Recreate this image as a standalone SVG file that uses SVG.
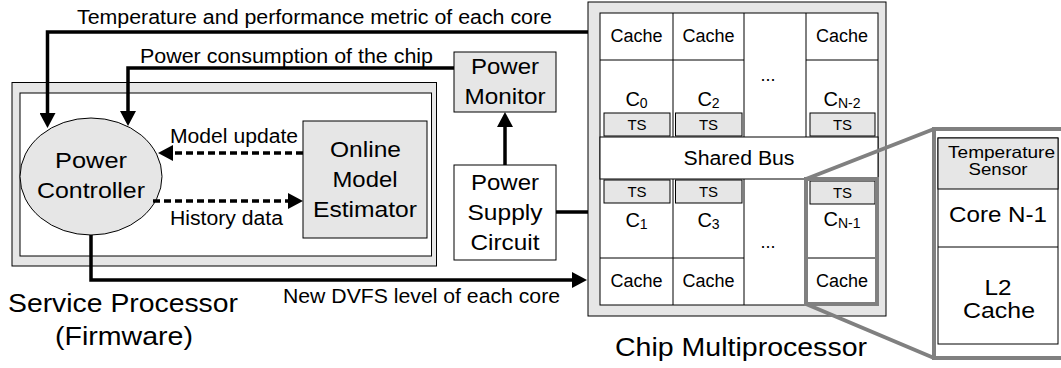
<svg xmlns="http://www.w3.org/2000/svg" width="1061" height="368" viewBox="0 0 1061 368">
  <style>
    text { font-family: "Liberation Sans", Arial, sans-serif; fill: #000; }
    .lbl { font-size: 19.5px; }
    .big { font-size: 22.5px; text-anchor: middle; }
    .cap { font-size: 26px; }
    .cell { font-size: 18px; text-anchor: middle; }
    .ts { font-size: 15px; text-anchor: middle; }
    .core { font-size: 20px; text-anchor: middle; }
    .sub { font-size: 14px; }
    .gray { fill: #e6e6e6; stroke: #000; stroke-width: 1; }
    .white { fill: #fff; stroke: #000; stroke-width: 1; }
    .thin { fill: none; stroke: #000; stroke-width: 1; }
    .wire { fill: none; stroke: #000; stroke-width: 3.5; }
    .dash { fill: none; stroke: #000; stroke-width: 3.5; stroke-dasharray: 7 4; }
    .zoom { fill: none; stroke: #808080; stroke-width: 4; }
  </style>
  <defs>
    <marker id="head" markerUnits="userSpaceOnUse" markerWidth="15" markerHeight="16" viewBox="0 0 15 16" refX="0" refY="8" orient="auto">
      <path d="M0,0 L15,8 L0,16 Z" fill="#000"/>
    </marker>
  </defs>

  <!-- Service processor enclosure -->
  <g id="service-processor">
    <rect class="gray" x="12" y="82.5" width="424.5" height="183.5"/>
    <rect class="white" x="20" y="93" width="411.5" height="163"/>
    <text class="cap" x="8" y="312" textLength="230" lengthAdjust="spacingAndGlyphs">Service Processor</text>
    <text class="cap" x="55" y="345" textLength="138" lengthAdjust="spacingAndGlyphs">(Firmware)</text>
  </g>

  <g id="power-controller">
    <ellipse class="gray" cx="91" cy="176.5" rx="71" ry="58.5"/>
    <text class="big" x="91" y="168" textLength="72" lengthAdjust="spacingAndGlyphs">Power</text>
    <text class="big" x="91" y="198" textLength="108" lengthAdjust="spacingAndGlyphs">Controller</text>
  </g>

  <g id="model-estimator">
    <rect class="gray" x="303" y="121" width="124" height="117"/>
    <text class="big" x="365.5" y="157" textLength="71" lengthAdjust="spacingAndGlyphs">Online</text>
    <text class="big" x="365" y="187" textLength="65" lengthAdjust="spacingAndGlyphs">Model</text>
    <text class="big" x="365" y="217" textLength="104" lengthAdjust="spacingAndGlyphs">Estimator</text>
  </g>

  <g id="power-monitor">
    <rect class="gray" x="454" y="52" width="102" height="60"/>
    <text class="big" x="505" y="74" textLength="68" lengthAdjust="spacingAndGlyphs">Power</text>
    <text class="big" x="505" y="104" textLength="81" lengthAdjust="spacingAndGlyphs">Monitor</text>
  </g>

  <g id="power-supply">
    <rect class="white" x="454" y="165" width="102" height="95"/>
    <text class="big" x="505" y="190" textLength="68" lengthAdjust="spacingAndGlyphs">Power</text>
    <text class="big" x="505" y="220" textLength="75" lengthAdjust="spacingAndGlyphs">Supply</text>
    <text class="big" x="505" y="250" textLength="69" lengthAdjust="spacingAndGlyphs">Circuit</text>
  </g>

  <!-- Chip multiprocessor -->
  <g id="chip">
    <rect class="gray" x="588" y="2" width="298" height="314"/>
    <rect class="white" x="600" y="13" width="278" height="292"/>
    <!-- cell grid -->
    <path class="thin" d="M600,60 H744 M806,60 H878 M600,258 H744 M806,258 H878
                          M673,13 V137 M744,13 V137 M806,13 V137
                          M673,179 V305 M744,179 V305 M806,179 V305"/>
    <rect class="white" x="600" y="137" width="278" height="42"/>
    <text class="cell" x="739" y="165" style="font-size:19.5px" textLength="111" lengthAdjust="spacingAndGlyphs">Shared Bus</text>

    <!-- upper row -->
    <text class="cell" x="636.5" y="42">Cache</text>
    <text class="cell" x="708.5" y="42">Cache</text>
    <text class="cell" x="842" y="42">Cache</text>
    <text class="core" x="636.5" y="106">C<tspan class="sub" dy="2">0</tspan></text>
    <text class="core" x="708.5" y="106">C<tspan class="sub" dy="2">2</tspan></text>
    <text class="core" x="842" y="106">C<tspan class="sub" dy="2">N-2</tspan></text>
    <rect class="gray" x="604" y="113" width="66" height="23"/>
    <rect class="gray" x="675.5" y="113" width="66.5" height="23"/>
    <rect class="gray" x="810" y="113" width="65" height="23"/>
    <text class="ts" x="637" y="130">TS</text>
    <text class="ts" x="708.5" y="130">TS</text>
    <text class="ts" x="842.5" y="130">TS</text>
    <text class="cell" x="768" y="81">...</text>

    <!-- lower row -->
    <rect class="gray" x="604" y="180" width="66" height="23"/>
    <rect class="gray" x="675.5" y="180" width="66.5" height="23"/>
    <rect class="gray" x="810" y="181" width="65" height="23"/>
    <text class="ts" x="637" y="197">TS</text>
    <text class="ts" x="708.5" y="197">TS</text>
    <text class="ts" x="842.5" y="198">TS</text>
    <text class="core" x="636.5" y="227">C<tspan class="sub" dy="2">1</tspan></text>
    <text class="core" x="708.5" y="227">C<tspan class="sub" dy="2">3</tspan></text>
    <text class="core" x="842" y="226">C<tspan class="sub" dy="2">N-1</tspan></text>
    <text class="cell" x="768" y="248">...</text>
    <text class="cell" x="636.5" y="287">Cache</text>
    <text class="cell" x="708.5" y="287">Cache</text>
    <text class="cell" x="842" y="287">Cache</text>

    <text class="cap" x="615" y="356" textLength="252" lengthAdjust="spacingAndGlyphs">Chip Multiprocessor</text>
  </g>

  <!-- magnified view of core N-1 -->
  <g id="core-detail">
    <rect class="zoom" x="806" y="179" width="71" height="125"/>
    <path class="zoom" d="M806,179 L934,129 M806,304 L934,358"/>
    <rect x="934" y="129" width="140" height="229" fill="#fff" stroke="#808080" stroke-width="4"/>
    <rect class="white" x="938" y="138" width="120" height="206"/>
    <rect class="gray" x="938" y="138" width="120" height="51"/>
    <line class="thin" x1="938" y1="247" x2="1058" y2="247"/>
    <text class="cell" x="1001.5" y="158" style="font-size:16.5px" textLength="107" lengthAdjust="spacingAndGlyphs">Temperature</text>
    <text class="cell" x="998" y="175" style="font-size:16.5px" textLength="59" lengthAdjust="spacingAndGlyphs">Sensor</text>
    <text class="big" x="998" y="222" textLength="98" lengthAdjust="spacingAndGlyphs">Core N-1</text>
    <text class="big" x="998" y="295" textLength="27" lengthAdjust="spacingAndGlyphs">L2</text>
    <text class="big" x="999" y="318" textLength="72" lengthAdjust="spacingAndGlyphs">Cache</text>
  </g>

  <!-- connectors -->
  <g id="connectors">
    <path class="wire" d="M588,32 H47.5 V113" marker-end="url(#head)"/>
    <path class="wire" d="M454,68 H128 V111" marker-end="url(#head)"/>
    <path class="wire" d="M505,165 V127" marker-end="url(#head)"/>
    <path class="wire" d="M556,212 H588"/>
    <path class="wire" d="M91,235 V280 H572" marker-end="url(#head)"/>
    <path class="dash" d="M303,153 H173" marker-end="url(#head)"/>
    <path class="dash" d="M153,201 H288" marker-end="url(#head)"/>
  </g>

  <g id="labels">
    <text class="lbl" x="77" y="24" textLength="475" lengthAdjust="spacingAndGlyphs">Temperature and performance metric of each core</text>
    <text class="lbl" x="140" y="63" textLength="293" lengthAdjust="spacingAndGlyphs">Power consumption of the chip</text>
    <text class="lbl" x="170" y="143" textLength="128" lengthAdjust="spacingAndGlyphs">Model update</text>
    <text class="lbl" x="170" y="225" textLength="113" lengthAdjust="spacingAndGlyphs">History data</text>
    <text class="lbl" x="283" y="303" textLength="277" lengthAdjust="spacingAndGlyphs">New DVFS level of each core</text>
  </g>
</svg>
